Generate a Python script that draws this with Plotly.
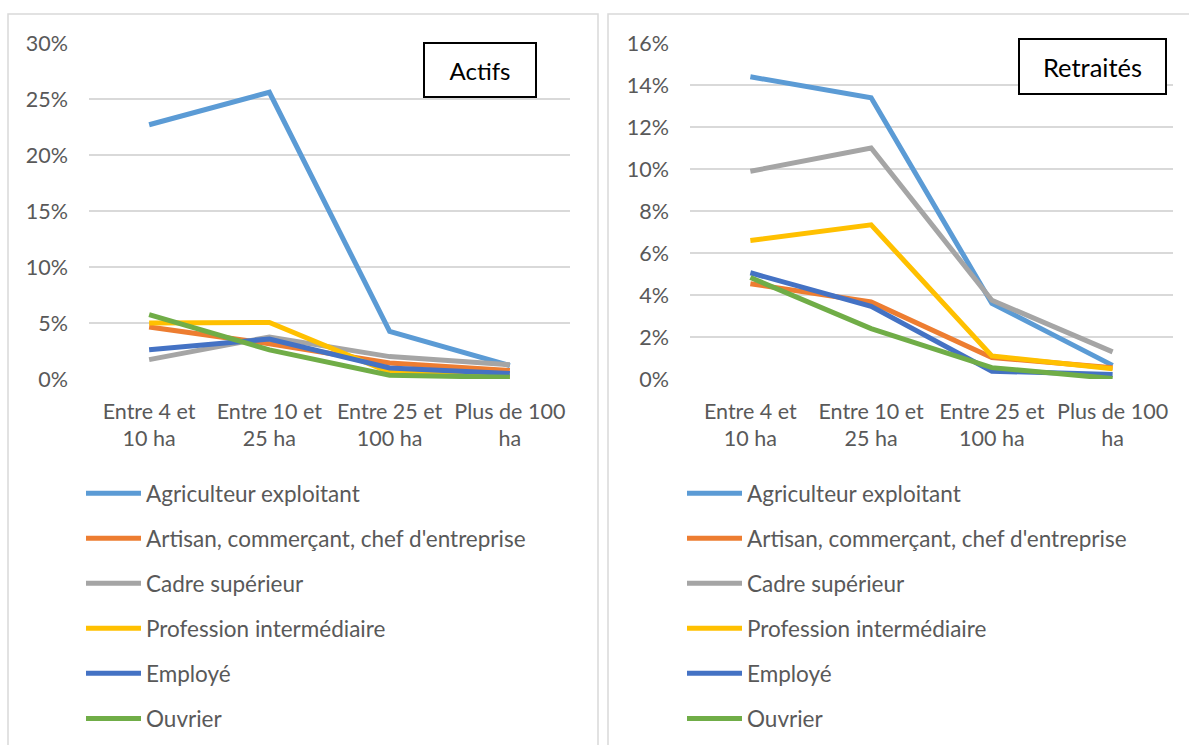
import plotly.graph_objects as go

categories = ["Entre 4 et 10 ha", "Entre 10 et 25 ha", "Entre 25 et 100 ha", "Plus de 100 ha"]
tick_labels = ["Entre 4 et<br>10 ha", "Entre 10 et<br>25 ha", "Entre 25 et<br>100 ha", "Plus de 100<br>ha"]
series_names = ["Agriculteur exploitant", "Artisan, commerçant, chef d'entreprise",
                "Cadre supérieur", "Profession intermédiaire", "Employé", "Ouvrier"]

actifs_agriculteur = [0.227, 0.256, 0.0426, 0.012]
actifs_artisan = [0.0464, 0.0315, 0.0143, 0.0077]
actifs_cadre = [0.0173, 0.0375, 0.020, 0.0128]
actifs_profession = [0.050, 0.0505, 0.006, 0.002]
actifs_employe = [0.0262, 0.0357, 0.0098, 0.0048]
actifs_ouvrier = [0.0574, 0.026, 0.0033, 0.0015]

retr_agriculteur = [0.1439, 0.1339, 0.0360, 0.0065]
retr_artisan = [0.0454, 0.0367, 0.0102, 0.0054]
retr_cadre = [0.0989, 0.1100, 0.0375, 0.0129]
retr_profession = [0.0660, 0.0734, 0.0110, 0.0049]
retr_employe = [0.0506, 0.0346, 0.0037, 0.0022]
retr_ouvrier = [0.0483, 0.0240, 0.0054, 0.0002]

colors = ["#5B9BD5", "#ED7D31", "#A5A5A5", "#FFC000", "#4472C4", "#70AD47"]

actifs = [actifs_agriculteur, actifs_artisan, actifs_cadre, actifs_profession, actifs_employe, actifs_ouvrier]
retr = [retr_agriculteur, retr_artisan, retr_cadre, retr_profession, retr_employe, retr_ouvrier]

W, H = 1189, 745
FONT = "Lato"
GREY = "#595959"

def px(x):
    return x / W

def py(y):
    return 1 - y / H

fig = go.Figure()
for i, name in enumerate(series_names):
    fig.add_trace(go.Scatter(x=categories, y=actifs[i], name=name, mode="lines",
                             line=dict(color=colors[i], width=5), xaxis="x", yaxis="y",
                             legend="legend", legendgroup="a%d" % i))
for i, name in enumerate(series_names):
    fig.add_trace(go.Scatter(x=categories, y=retr[i], name=name, mode="lines",
                             line=dict(color=colors[i], width=5), xaxis="x2", yaxis="y2",
                             legend="legend2", legendgroup="r%d" % i))

axis_common = dict(showline=False, zeroline=False, ticks="",
                   tickfont=dict(family=FONT, size=21.5, color=GREY))
fig.update_layout(
    width=W, height=H,
    margin=dict(l=0, r=0, t=0, b=0, autoexpand=False),
    paper_bgcolor="white", plot_bgcolor="white",
    font=dict(family=FONT, color=GREY),
    xaxis=dict(domain=[px(89), px(570)], anchor="y", tickvals=categories, ticktext=tick_labels,
               range=[-0.5, 3.5], showgrid=False, ticklabelstandoff=17, **axis_common),
    yaxis=dict(domain=[py(379), py(43)], anchor="x", range=[0, 0.30], dtick=0.05, tickformat=".0%",
               showgrid=True, gridcolor="#D9D9D9", gridwidth=1.5, ticklabelstandoff=20, **axis_common),
    xaxis2=dict(domain=[px(690), px(1173)], anchor="y2", tickvals=categories, ticktext=tick_labels,
                range=[-0.5, 3.5], showgrid=False, ticklabelstandoff=17, **axis_common),
    yaxis2=dict(domain=[py(379), py(43)], anchor="x2", range=[0, 0.16], dtick=0.02, tickformat=".0%",
                showgrid=True, gridcolor="#D9D9D9", gridwidth=1.5, ticklabelstandoff=20, **axis_common),
    legend=dict(x=px(81), y=py(472), xanchor="left", yanchor="top", itemwidth=55,
                tracegroupgap=12.8, font=dict(family=FONT, size=22.5, color=GREY), bgcolor="rgba(0,0,0,0)"),
    legend2=dict(x=px(682), y=py(472), xanchor="left", yanchor="top", itemwidth=55,
                 tracegroupgap=12.8, font=dict(family=FONT, size=22.5, color=GREY), bgcolor="rgba(0,0,0,0)"),
    showlegend=True,
)

# panel borders
fig.add_shape(type="rect", xref="paper", yref="paper", x0=px(8), x1=px(598), y0=py(760), y1=py(14),
              line=dict(color="#D9D9D9", width=1.5), fillcolor="rgba(0,0,0,0)", layer="below")
fig.add_shape(type="rect", xref="paper", yref="paper", x0=px(608), x1=px(1200), y0=py(760), y1=py(14),
              line=dict(color="#D9D9D9", width=1.5), fillcolor="rgba(0,0,0,0)", layer="below")

# title boxes
fig.add_annotation(text="Actifs", xref="paper", yref="paper", x=px(479.5), y=py(70), xanchor="center",
                   yanchor="middle", showarrow=False, width=108, height=50,
                   bordercolor="black", borderwidth=2, bgcolor="white",
                   font=dict(family=FONT, size=24, color="black"))
fig.add_annotation(text="Retraités", xref="paper", yref="paper", x=px(1092), y=py(66.5), xanchor="center",
                   yanchor="middle", showarrow=False, width=143, height=51,
                   bordercolor="black", borderwidth=2, bgcolor="white",
                   font=dict(family=FONT, size=25.5, color="black"))

fig.write_html("out.html", config={"displayModeBar": False},
               post_script="document.body.style.margin='0px';")
